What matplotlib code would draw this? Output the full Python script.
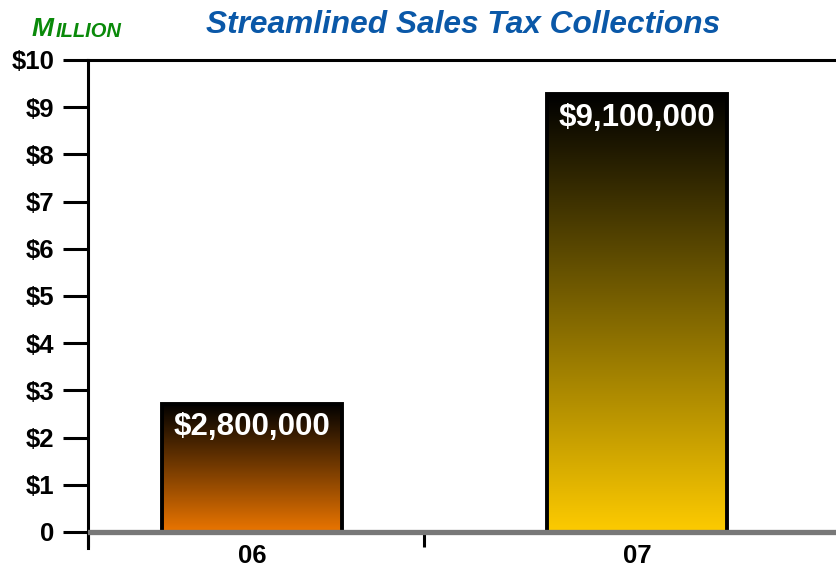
import numpy as np
import matplotlib.pyplot as plt
from matplotlib.colors import LinearSegmentedColormap

years = ["06", "07"]
heights = [2.72, 9.27]          # bar tops as drawn (millions)
bar_labels = ["$2,800,000", "$9,100,000"]
bar_colors = ["#f07800", "#ffcc00"]
y_ticks = [0, 1, 2, 3, 4, 5, 6, 7, 8, 9, 10]
y_ticklabels = ["0", "$1", "$2", "$3", "$4", "$5", "$6", "$7", "$8", "$9", "$10"]

plt.rcParams['font.family'] = ['Liberation Sans', 'DejaVu Sans']

fig = plt.figure(figsize=(8.36, 5.70), dpi=100)
ax = fig.add_axes([88 / 836, 22 / 570, 1 - 88 / 836, (548 - 60) / 570])

x = np.arange(len(years))
width = 0.467
grad = np.linspace(0, 1, 256).reshape(-1, 1)

for xi, h, c, lab in zip(x, heights, bar_colors, bar_labels):
    cmap = LinearSegmentedColormap.from_list("g", [c, "#000000"])
    bar = ax.bar(xi, h, width, facecolor="none", edgecolor="black", lw=2.8, zorder=3)[0]
    im = ax.imshow(grad, cmap=cmap, origin="lower", aspect="auto",
                   extent=[xi - width / 2, xi + width / 2, -0.06, h], zorder=2)
    im.set_clip_path(bar)
    ax.text(xi, h - 0.5, lab, color="white", fontsize=22.5, fontweight="bold",
            ha="center", va="center", zorder=5)

ax.axhline(0, color="#787878", lw=3.8, zorder=4)

ax.set_xlim(-0.426, 1.517)
ax.set_ylim(-0.34, 10)

ax.set_yticks(y_ticks)
ax.set_yticklabels(y_ticklabels, fontsize=18.5, fontweight="bold")
ax.tick_params(axis="y", length=18, width=2.2, pad=6)

ax.spines["bottom"].set_position(("data", 0))
ax.spines["bottom"].set_visible(False)
ax.spines["right"].set_visible(False)
ax.spines["left"].set_linewidth(2.2)
ax.spines["top"].set_linewidth(2.2)

ax.set_xticks([-0.426, 0.447])
ax.set_xticklabels(["", ""])
ax.tick_params(axis="x", which="major", length=11, width=2.2, direction="out")
ax.set_xticks(x, minor=True)
ax.set_xticklabels(years, minor=True, fontsize=18.5, fontweight="bold")
ax.tick_params(axis="x", which="minor", length=0, pad=8.5)

fig.text(463 / 836, 1 - 25 / 570, "Streamlined Sales Tax Collections", color="#0a58a8",
         fontsize=22.8, fontweight="bold", fontstyle="italic", ha="center", va="center")
t1 = fig.text(32 / 836, 1 - 36 / 570, "M", color="#0a8a0a", fontsize=19,
              fontweight="bold", fontstyle="italic", va="baseline")
ax.annotate("ILLION", xy=(1, 0), xytext=(1, 0), xycoords=t1, textcoords="offset points",
            color="#0a8a0a", fontsize=14.5, fontweight="bold", fontstyle="italic",
            va="bottom", ha="left", annotation_clip=False)

fig.savefig("out.png", dpi=100)
